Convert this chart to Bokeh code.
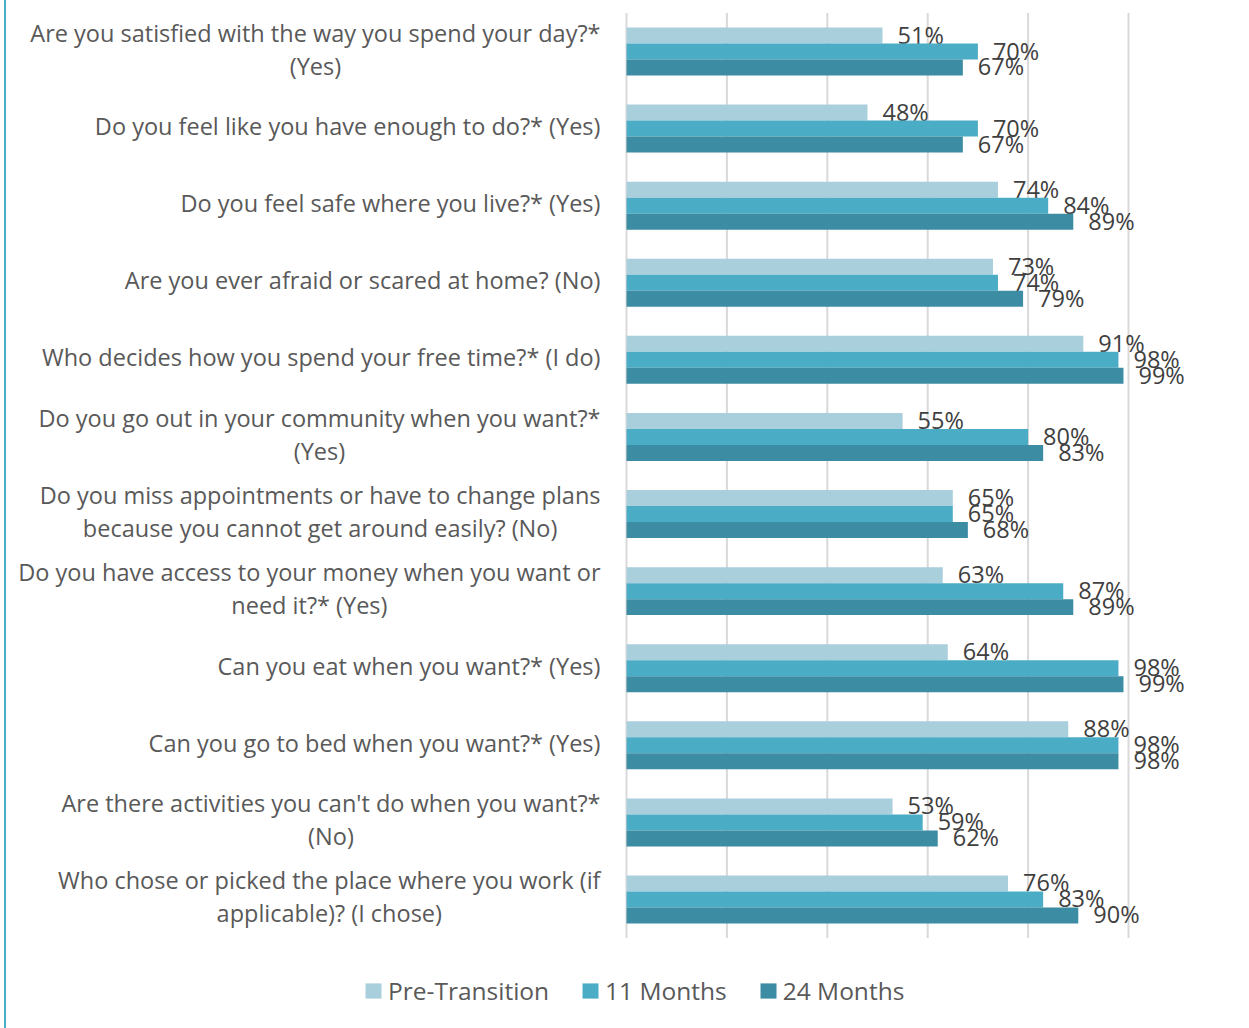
import glob
import subprocess
from bokeh.plotting import figure
from bokeh.models import (Range1d, ColumnDataSource, Legend, LegendItem, InlineStyleSheet)
from bokeh.transform import dodge
from bokeh.core.properties import value
from bokeh.embed import file_html
from bokeh.resources import INLINE

categories = [
    "Are you satisfied with the way you spend your day?*\n(Yes)",
    "Do you feel like you have enough to do?* (Yes)",
    "Do you feel safe where you live?* (Yes)",
    "Are you ever afraid or scared at home? (No)",
    "Who decides how you spend your free time?* (I do)",
    "Do you go out in your community when you want?*\n(Yes)",
    "Do you miss appointments or have to change plans\nbecause you cannot get around easily? (No)",
    "Do you have access to your money when you want or\nneed it?* (Yes)",
    "Can you eat when you want?* (Yes)",
    "Can you go to bed when you want?* (Yes)",
    "Are there activities you can't do when you want?*\n(No)",
    "Who chose or picked the place where you work (if\napplicable)? (I chose)",
]
pre_transition = [51, 48, 74, 73, 91, 55, 65, 63, 64, 88, 53, 76]
months_11 = [70, 70, 84, 74, 98, 80, 65, 87, 98, 98, 59, 83]
months_24 = [67, 67, 89, 79, 99, 83, 68, 89, 99, 98, 62, 90]
series_names = ["Pre-Transition", "11 Months", "24 Months"]
series_colors = ["#A9CFDD", "#4BACC6", "#3C8CA4"]
grid_ticks = [0, 20, 40, 60, 80, 100]

FONT = "Open Sans"
FONT_PX = 23.5
LEGEND_PX = 24.5
LABEL_GAP = 26      # px between category label block and the 0 line
LINE_STEP = 33      # px between lines of a category label


def find_font():
    try:
        out = subprocess.run(["fc-match", "-f", "%{file}", "Open Sans:style=Regular"],
                             capture_output=True, text=True, timeout=10).stdout.strip()
        if out and "opensans" in out.lower().replace(" ", "").replace("_", ""):
            return out
    except Exception:
        pass
    cands = []
    for root in ["/usr/share/fonts", "/usr/local/share/fonts", "/root/.fonts"]:
        cands += glob.glob(root + "/**/*OpenSans*", recursive=True)
    cands = [c for c in cands if c.lower().endswith((".ttf", ".otf"))]
    for c in cands:
        if "Regular" in c or "[" in c:
            return c
    return cands[0] if cands else None


measure = None
try:
    from PIL import ImageFont
    fp = find_font()
    if fp:
        _f = ImageFont.truetype(fp, int(FONT_PX * 10))
        measure = lambda s: _f.getlength(s) / 10.0
except Exception:
    measure = None

n = len(categories)
cat_y = [n - 1 - i for i in range(n)]

source = ColumnDataSource(dict(
    y=cat_y,
    pre=pre_transition, m11=months_11, m24=months_24,
    pre_lbl=[f"{v}%" for v in pre_transition],
    m11_lbl=[f"{v}%" for v in months_11],
    m24_lbl=[f"{v}%" for v in months_24],
))

# category label lines (block right-aligned, lines centred within the block)
lx, ly, ltxt, lxoff, lyoff = [], [], [], [], []
for yc, cat in zip(cat_y, categories):
    lines = cat.split("\n")
    k = len(lines)
    wmax = max(measure(s) for s in lines) if measure else 0.0
    for j, s in enumerate(lines):
        lx.append(0)
        ly.append(yc)
        ltxt.append(s)
        lxoff.append(-LABEL_GAP - wmax / 2.0)
        lyoff.append((j - (k - 1) / 2.0) * LINE_STEP - 2.5)
label_src = ColumnDataSource(dict(x=lx, y=ly, text=ltxt, xo=lxoff, yo=lyoff))

W, H = 1249, 1028
px_per_unit = 5.02
x0_px = 626
unit_px = 77.09
top_center_px = 51

p = figure(width=W, height=H,
           x_range=Range1d(-x0_px / px_per_unit, (W - x0_px) / px_per_unit),
           y_range=Range1d(-(H - top_center_px - (n - 1) * unit_px) / unit_px,
                           (n - 1) + top_center_px / unit_px),
           output_backend="svg", toolbar_location=None,
           min_border_left=0, min_border_right=0, min_border_top=0, min_border_bottom=0)
p.outline_line_color = None
p.background_fill_color = "white"
p.border_fill_color = "white"
p.xaxis.visible = False
p.yaxis.visible = False
p.xgrid.visible = False
p.ygrid.visible = False

# vertical gridlines at 0..100 spanning the category band
p.segment(x0=grid_ticks, x1=grid_ticks, y0=-0.5, y1=n - 0.5,
          line_color="#D9D9D9", line_width=2)

bar_h = 0.2075
fields = ["pre", "m11", "m24"]
offsets = [bar_h, 0.0, -bar_h]
renderers = []
for f, off, col in zip(fields, offsets, series_colors):
    r = p.hbar(y=dodge("y", off), right=f, left=0,
               height=bar_h, source=source, fill_color=col, line_color=None)
    renderers.append(r)
    p.text(x=f, y=dodge("y", off), text=f + "_lbl",
           source=source, x_offset=15, y_offset=-1, text_align="left", text_baseline="middle",
           text_font=value(FONT), text_font_size=f"{FONT_PX}px", text_color="#404040")

p.text(x="x", y="y", text="text", x_offset="xo", y_offset="yo", source=label_src,
       text_align="center" if measure else "right", text_baseline="middle",
       text_font=value(FONT), text_font_size=f"{FONT_PX}px", text_color="#595959")

legend = Legend(items=[LegendItem(label=nm, renderers=[r]) for nm, r in zip(series_names, renderers)],
                orientation="horizontal", location=(363, 21))
legend.border_line_color = None
legend.background_fill_alpha = 0
legend.padding = 0
legend.margin = 0
legend.spacing = 31
legend.glyph_width = 20
legend.glyph_height = 19
legend.label_standoff = 5
legend.label_text_font = FONT
legend.label_text_font_size = f"{LEGEND_PX}px"
legend.label_text_color = "#595959"
p.add_layout(legend)

p.stylesheets = [InlineStyleSheet(css=":host{position:relative;} :host::after{content:'';position:absolute;left:4px;top:0;width:2px;height:100%;background:#4BACC6;z-index:100;}")]

open("out.html", "w").write(file_html(p, INLINE))
